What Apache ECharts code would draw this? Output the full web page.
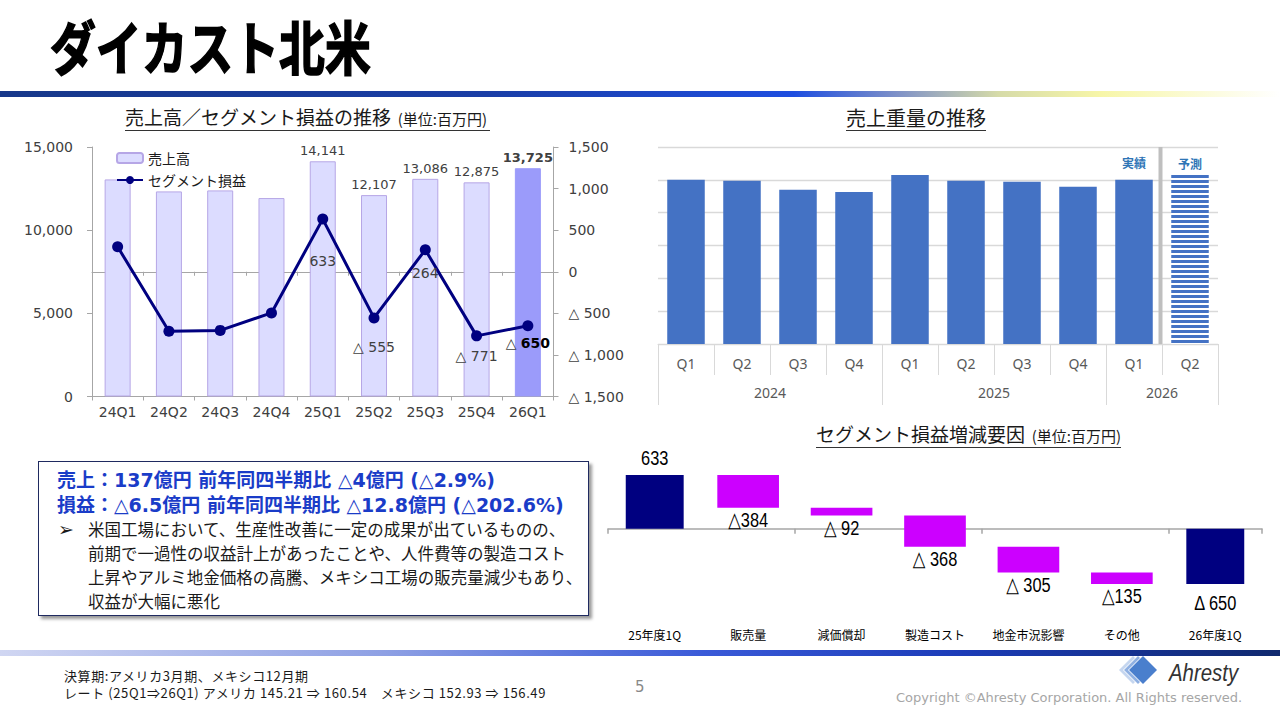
<!DOCTYPE html>
<html><head><meta charset="utf-8">
<script src="https://cdn.jsdelivr.net/npm/echarts@6/dist/echarts.min.js"></script>
<style>
html,body{margin:0;padding:0;background:#fff;}
body{width:1280px;height:720px;overflow:hidden;position:relative;font-family:"Noto Sans CJK JP","DejaVu Sans",sans-serif;color:#1a1a1a;}
#chart{position:absolute;left:0;top:0;width:1280px;height:720px;}
.abs{position:absolute;white-space:nowrap;}
.ct{border-bottom:1px solid #333;line-height:22px;padding:0;}
.note{position:absolute;left:64px;font-size:13px;line-height:15px;height:15px;letter-spacing:0.6px;color:#1a1a1a;white-space:nowrap;}
</style></head><body>
<div id="chart"></div>

<div class="abs" style="left:50px;top:12px;font-size:58px;line-height:66px;font-weight:700;transform:scaleX(0.79);transform-origin:left top;color:#000;-webkit-text-stroke:1.6px #000;">ダイカスト北米</div>
<div class="abs" style="left:0;top:91px;width:1280px;height:6px;background:linear-gradient(90deg,#17388a 0%,#1a3ea6 38%,#1e4ee0 62%,#7d90c8 70%,#d6dba8 78%,#f7f6a8 86%,#ffffff 100%);"></div>

<div class="abs ct" style="left:125px;top:106px;"><span style="font-size:19px;">売上高／セグメント損益の推移</span><span style="font-size:15px;">&nbsp;&nbsp;(単位:百万円)&nbsp;</span></div>
<div class="abs ct" style="left:846px;top:107px;"><span style="font-size:20px;">売上重量の推移</span></div>
<div class="abs ct" style="left:816px;top:423px;"><span style="font-size:19px;">セグメント損益増減要因</span><span style="font-size:15px;">&nbsp;&nbsp;(単位:百万円)</span></div>

<div class="abs" style="left:38px;top:461px;width:549px;height:153px;border:1.5px solid #1f2a60;box-shadow:3px 3px 3px #9a9a9a;background:#fff;white-space:normal;">
  <div style="position:absolute;left:18px;top:6px;font-size:19px;line-height:25px;font-weight:700;color:#1a3cc8;font-family:'DejaVu Sans','Noto Sans CJK JP',sans-serif;white-space:nowrap;">
    <div>売上：137億円 前年同四半期比 △4億円 (△2.9%)</div>
    <div>損益：△6.5億円 前年同四半期比 △12.8億円 (△202.6%)</div>
  </div>
  <div style="position:absolute;left:19px;top:55px;font-size:19px;line-height:24px;color:#1a1a1a;font-family:'DejaVu Sans',sans-serif;">➢</div>
  <div style="position:absolute;left:49px;top:55px;width:505px;font-size:16.5px;line-height:24px;color:#1a1a1a;">
    <div>米国工場において、生産性改善に一定の成果が出ているものの、</div>
    <div>前期で一過性の収益計上があったことや、人件費等の製造コスト</div>
    <div>上昇やアルミ地金価格の高騰、メキシコ工場の販売量減少もあり、</div>
    <div>収益が大幅に悪化</div>
  </div>
</div>

<div class="abs" style="left:0;top:650px;width:1280px;height:6px;background:linear-gradient(90deg,#d0d6f2 0%,#8ea0e4 30%,#3a5ad8 55%,#1c3cb8 75%,#10296e 100%);"></div>
<div class="note" style="top:668px;">決算期:アメリカ3月期、メキシコ12月期</div>
<div class="note" style="top:685px;">レート (25Q1⇒26Q1) アメリカ 145.21 ⇒ 160.54　メキシコ 152.93 ⇒ 156.49</div>
<div class="abs" style="left:635px;top:678px;font-size:15px;color:#888;font-family:'DejaVu Sans',sans-serif;">5</div>
<svg class="abs" style="left:1118px;top:655px;" width="40" height="30" viewBox="0 0 40 30">
  <polygon points="15,1 29,15 15,29 1,15" fill="#c5d6ef"/>
  <polygon points="19,1 33,15 19,29 5,15" fill="#ffffff"/>
  <polygon points="20,1 34,15 20,29 6,15" fill="#8fb0e2"/>
  <polygon points="24,1 38,15 24,29 10,15" fill="#ffffff"/>
  <polygon points="25,1 39,15 25,29 11,15" fill="#4a7fcd"/>
</svg>
<div class="abs" style="left:1169px;top:658px;font-size:24px;line-height:30px;font-style:italic;color:#333;font-family:'Liberation Sans','DejaVu Sans',sans-serif;transform:scaleX(0.85);transform-origin:left top;">Ahresty</div>
<div class="abs" style="left:896px;top:690px;font-size:13px;color:#a6a6a6;font-family:'DejaVu Sans',sans-serif;">Copyright ©Ahresty Corporation. All Rights reserved.</div>

<script>
// ---------- data ----------
const salesCategories = ['24Q1','24Q2','24Q3','24Q4','25Q1','25Q2','25Q3','25Q4','26Q1'];
const salesValues = [13050, 12330, 12390, 11930, 14141, 12107, 13086, 12875, 13725];
const profitValues = [300, -715, -705, -495, 633, -555, 264, -771, -650];

const weightQuarters = ['Q1','Q2','Q3','Q4','Q1','Q2','Q3','Q4','Q1','Q2'];
const weightYears = ['2024','2025','2026'];
const weightYearSpans = [4, 4, 2];
const weightValues = [5.00, 4.97, 4.70, 4.63, 5.15, 4.97, 4.94, 4.79, 5.00, 5.21];

const bridgeCategories = ['25年度1Q','販売量','減価償却','製造コスト','地金市況影響','その他','26年度1Q'];
const bridgeValues = [633, -384, -92, -368, -305, -135, -650];
const bridgeLabels = ['633','△384','△ 92','△ 368','△ 305','△135','Δ 650'];

// ---------- helpers ----------
const fmt = v => Math.abs(v).toLocaleString('en-US');
const tri = v => v < 0 ? '△ ' + fmt(v) : fmt(v);
const NUMF = "'DejaVu Sans','Noto Sans CJK JP',sans-serif";
const NARROW = "'Liberation Sans','DejaVu Sans','Noto Sans CJK JP',sans-serif";

// label styling (not data)
const salesLabelFrom = 4;
const profitLabelDist = [0,0,0,0,29,17,11,8,5];

// year axis tick/label positions from spans
const yearTicks = [0];
const yearCenters = [];
weightYearSpans.forEach((s,i)=>{ const st = yearTicks[yearTicks.length-1]; yearCenters.push(st + s/2); yearTicks.push(st + s); });

// stripe pattern for forecast
const pc = document.createElement('canvas'); pc.width = 6; pc.height = 5;
const pctx = pc.getContext('2d');
pctx.fillStyle = '#ffffff'; pctx.fillRect(0,0,6,5);
pctx.fillStyle = '#4472c4'; pctx.fillRect(0,0,6,3);
const stripe = {image: pc.toDataURL(), imageWidth: 6, imageHeight: 5, repeat: 'repeat'};

// waterfall: [index, low, high, label, kind]
const bridgeData = [];
let run = 0;
bridgeValues.forEach((v,i)=>{
  const last = i === bridgeValues.length-1;
  if (i === 0 || last) {
    bridgeData.push([i, Math.min(0,v), Math.max(0,v), bridgeLabels[i], v >= 0 ? 1 : 2]);
    run = v;
  } else {
    const next = run + v;
    bridgeData.push([i, Math.min(run,next), Math.max(run,next), bridgeLabels[i], 0]);
    run = next;
  }
});

const chart = echarts.init(document.getElementById('chart'), null, {renderer:'svg', width:1280, height:720});

const option = {
  animation: false,
  textStyle: {fontFamily: NUMF},
  legend: {
    orient: 'vertical', left: 111, top: 146, itemWidth: 26, itemHeight: 10, itemGap: 8,
    textStyle: {fontSize: 14, color: '#1a1a1a', fontFamily: "'Noto Sans CJK JP',sans-serif"},
    data: ['売上高', 'セグメント損益']
  },
  grid: [
    {left: 92, top: 147, width: 461.5, height: 249.5},
    {left: 658, top: 147, width: 560, height: 197},
    {left: 608, top: 444, width: 654, height: 169.6}
  ],
  xAxis: [
    {gridIndex:0, type:'category', data: salesCategories, position:'bottom',
     axisLine:{onZero:false, lineStyle:{color:'#a6a6a6'}}, axisTick:{show:true, length:4, lineStyle:{color:'#a6a6a6'}},
     axisLabel:{fontSize:14, color:'#404040', margin:8}},
    {gridIndex:0, type:'category', data: salesCategories, position:'bottom',
     axisLine:{onZero:true, onZeroAxisIndex:1, lineStyle:{color:'#a6a6a6'}}, axisTick:{show:true, length:4, lineStyle:{color:'#a6a6a6'}},
     axisLabel:{show:false}},
    {gridIndex:1, type:'category', data: weightQuarters, position:'bottom',
     axisLine:{onZero:false, lineStyle:{color:'#d9d9d9'}}, axisTick:{show:true, interval:0, length:31, lineStyle:{color:'#d9d9d9'}},
     axisLabel:{fontSize:14, color:'#595959', margin:12, interval:0, fontFamily:"'Noto Sans',sans-serif"}},
    {gridIndex:1, type:'value', min:0, max:weightQuarters.length, position:'bottom',
     axisLine:{show:false, onZero:false}, splitLine:{show:false},
     axisTick:{show:true, customValues: yearTicks, length:61, lineStyle:{color:'#d9d9d9'}},
     axisLabel:{customValues: yearCenters, margin:41, fontSize:14, color:'#595959', fontFamily:"'Noto Sans',sans-serif",
       formatter: v => weightYears[yearCenters.indexOf(v)] || ''}},
    {gridIndex:2, type:'category', data: bridgeCategories,
     axisLine:{onZero:true, lineStyle:{color:'#a6a6a6', width:1.5}}, axisTick:{show:true, length:5, lineStyle:{color:'#a6a6a6', width:1.5}},
     axisLabel:{show:false}},
    {gridIndex:2, type:'category', data: bridgeCategories, position:'bottom',
     axisLine:{show:false, onZero:false}, axisTick:{show:false},
     axisLabel:{fontSize:12, color:'#000', margin:15, interval:0, fontFamily:"'Noto Sans CJK JP',sans-serif"}}
  ],
  yAxis: [
    {gridIndex:0, type:'value', min:0, max:15000, interval:5000, position:'left',
     axisLine:{show:true, lineStyle:{color:'#a6a6a6'}}, axisTick:{show:true, length:5, lineStyle:{color:'#a6a6a6'}},
     splitLine:{show:false}, axisLabel:{fontSize:14, color:'#404040', margin:19, formatter: v => fmt(v)}},
    {gridIndex:0, type:'value', min:-1500, max:1500, interval:500, position:'right',
     axisLine:{show:true, lineStyle:{color:'#a6a6a6'}}, axisTick:{show:true, length:5, lineStyle:{color:'#a6a6a6'}},
     splitLine:{show:false}, axisLabel:{fontSize:14, color:'#404040', margin:15, formatter: v => tri(v)}},
    {gridIndex:1, type:'value', min:0, max:6, interval:1,
     axisLine:{show:false}, axisTick:{show:false}, axisLabel:{show:false},
     splitLine:{show:true, lineStyle:{color:'#d9d9d9', width:1.3}}},
    {gridIndex:2, type:'value', min:-1000, max:1000, show:false}
  ],
  series: [
    {name:'売上高', type:'bar', xAxisIndex:0, yAxisIndex:0, barWidth:26,
     itemStyle:{color:'#dcdcff', borderColor:'#b6a6e6', borderWidth:1},
     data: salesValues.map((v,i)=>({
       value: v,
       itemStyle: i === salesValues.length-1 ? {color:'#9b9bfa', borderColor:'#9b9bfa'} : undefined,
       label: {show: i >= salesLabelFrom, position:'top', distance:4, fontSize:13, color:'#404040',
               fontWeight: i === salesValues.length-1 ? 'bold' : 'normal', formatter: p => fmt(p.value)}
     })),
     z: 1},
    {name:'セグメント損益', type:'line', xAxisIndex:1, yAxisIndex:1,
     symbol:'circle', symbolSize:11, lineStyle:{color:'#000080', width:3}, itemStyle:{color:'#000080'},
     data: profitValues.map((v,i)=>({
       value: v,
       label: {show: i >= salesLabelFrom, position:'bottom', distance: profitLabelDist[i], fontSize:14, color:'#404040',
               formatter: i === profitValues.length-1 ? '{n|△ }{b|' + fmt(v) + '}' : tri(v),
               rich: {n:{fontSize:14, color:'#404040'}, b:{fontSize:14, fontWeight:'bold', color:'#000'}}}
     })),
     z: 5},
    {name:'売上重量', type:'bar', xAxisIndex:2, yAxisIndex:2, barWidth:'67%',
     itemStyle:{color:'#4472c4'},
     data: weightValues.map((v,i)=>{
       const d = {value: v};
       if (i === weightValues.length-2) d.label = {show:true, position:'top', distance:11, formatter:'実績', fontSize:12, fontWeight:'bold', color:'#2e75b6', fontFamily:"'Noto Sans CJK JP',sans-serif"};
       if (i === weightValues.length-1) { d.itemStyle = {color: stripe}; d.label = {show:true, position:'top', distance:3, formatter:'予測', fontSize:12, fontWeight:'bold', color:'#2e75b6', fontFamily:"'Noto Sans CJK JP',sans-serif"}; }
       return d;
     })},
    {name:'セグメント損益増減', type:'custom', xAxisIndex:4, yAxisIndex:3,
     data: bridgeData,
     renderItem: (params, api) => {
       const d = bridgeData[params.dataIndex];
       const i = api.value(0);
       const top = api.coord([i, api.value(2)]);
       const bot = api.coord([i, api.value(1)]);
       const kind = d[4];
       const w = api.size([1,0])[0] * (kind === 0 ? 0.66 : 0.62);
       let ty;
       if (kind === 1) ty = top[1] - 17;
       else if (kind === 2) ty = bot[1] + 19;
       else ty = bot[1] + 12;
       return {type:'group', children:[
         {type:'rect', shape:{x: top[0]-w/2, y: top[1], width: w, height: Math.max(1, bot[1]-top[1])},
          style:{fill: kind === 0 ? '#cc00ff' : '#000080'}},
         {type:'text', x: top[0], y: ty, scaleX: 0.78, scaleY: 1,
          style:{text: d[3], x: 0, y: 0, align:'center', verticalAlign:'middle',
           font: "21px " + NARROW, fill:'#000'}}
       ]};
     }}
  ]
};
chart.setOption(option);

// separator between actual and forecast (boundary on year value axis)
const sepX = chart.convertToPixel({xAxisIndex:3}, yearTicks[yearTicks.length-1] - 1) - 1.5;
const topY = chart.convertToPixel({yAxisIndex:2}, 6);
const botY = chart.convertToPixel({yAxisIndex:2}, 0);
chart.setOption({graphic:[{type:'line', shape:{x1:sepX, y1:topY, x2:sepX, y2:botY}, style:{stroke:'#bfbfbf', lineWidth:4}, z:10}]});
</script>
</body></html>
